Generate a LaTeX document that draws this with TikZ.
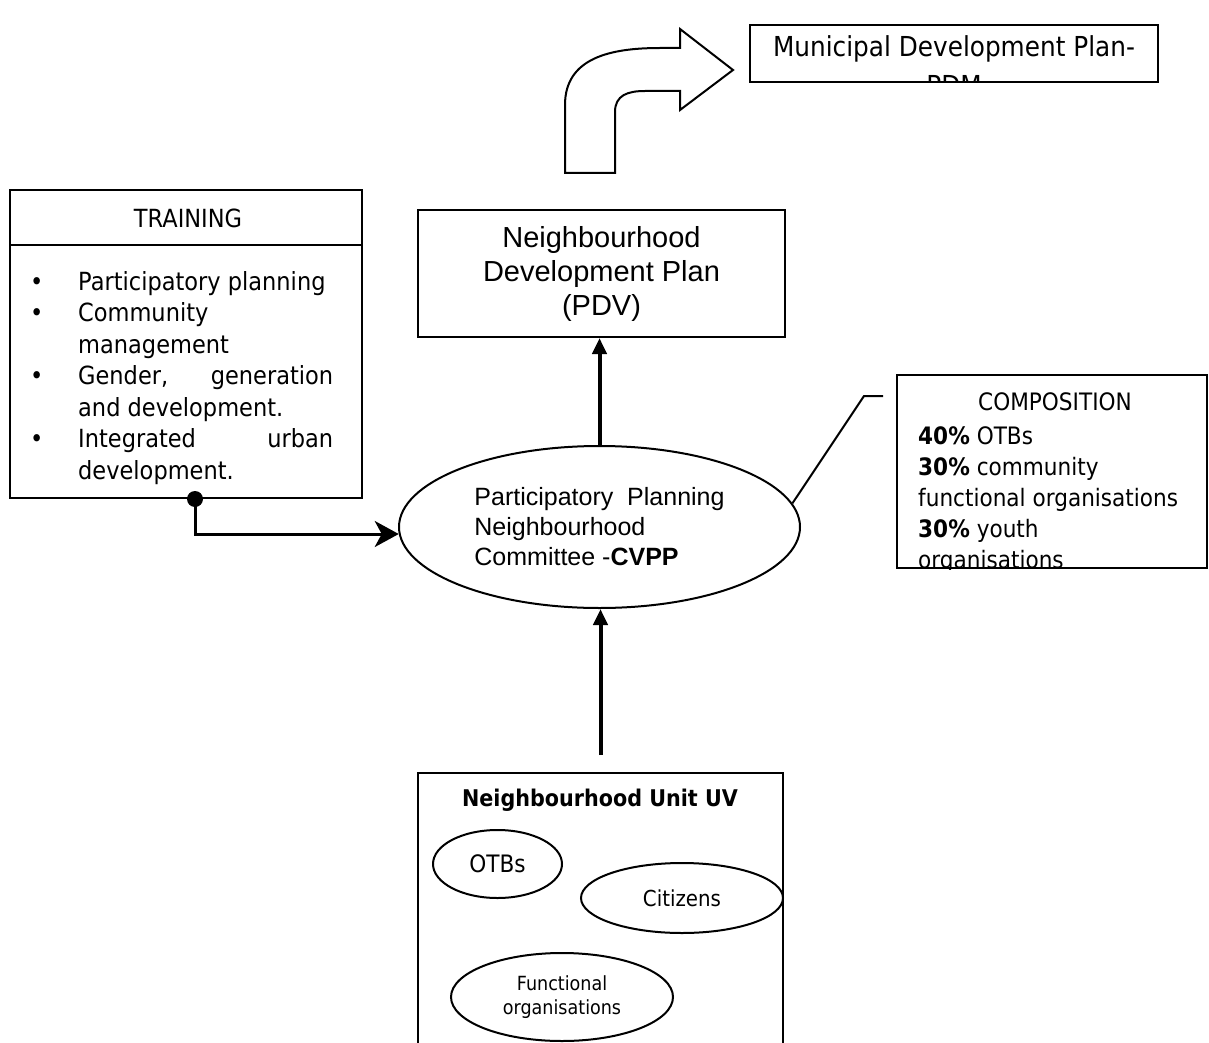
\documentclass[tikz,border=0pt]{standalone}
\usepackage{fontspec}
\setmainfont{DejaVu Sans}[FakeStretch=0.9]
\newfontfamily\arialfont{Liberation Sans}
\usetikzlibrary{arrows.meta,positioning,shapes.geometric}
\tikzset{
  pl diagram/.style={x=1pt, y=-1pt, line join=miter},
  pl box/.style={draw, line width=2pt, inner sep=0pt},
  pl oval/.style={draw, ellipse, line width=2pt, inner sep=0pt},
  pl rise/.style={-{Triangle[length=16pt,width=14pt]}, line width=4pt},
  pl link/.style={-{Stealth[length=24pt,width=26pt,inset=7pt]}, line width=3pt},
  pl leader/.style={line width=2pt},
  pl verdana/.style={font=\fontsize{25}{31.5}\selectfont, inner sep=0pt},
  pl arial/.style={font=\arialfont\fontsize{25}{30}\selectfont},
}

\begin{document}
\begin{tikzpicture}[pl diagram]
\useasboundingbox (0,0) rectangle (1209,1043);
% municipal plan and bent arrow
\node[pl box, minimum width=408, minimum height=57] (munibox) at (954,53.5) {};
\begin{scope}
\clip (munibox.south west) rectangle (munibox.north east);
\node[font=\fontsize{27.5}{39}\selectfont, align=center, anchor=north, inner sep=0pt] (munitext) at ([yshift=-11pt]munibox.north) {Municipal Development Plan-\\PDM};
\end{scope}
\draw[pl leader, fill=white] (565,173) -- (565,105) .. controls (565,58) and (610,48) .. (660,48) -- (680,48) -- (680,29) -- (733,70) -- (680,110) -- (680,91) -- (645,91) .. controls (628,91) and (615,95) .. (615,112) -- (615,173) -- cycle;
% neighbourhood plan
\node[pl box, minimum width=367, minimum height=127, font=\arialfont\fontsize{29}{34}\selectfont, align=center] (pdv) at (601.5,273.5) {Neighbourhood\\Development Plan\\(PDV)};
% committee
\node[pl oval, minimum width=401, minimum height=162, pl arial, align=left] (cvpp) at (599.5,527) {Participatory\ \ Planning\\Neighbourhood\\Committee -\textbf{CVPP}};
\draw[pl rise] (cvpp.north) -- (cvpp.north |- pdv.south);
% training
\node[pl box, minimum width=352, minimum height=308] (trainbox) at (186,344) {};
\coordinate (trainrule) at (0,245);
\draw[pl leader] (trainbox.west |- trainrule) -- (trainbox.east |- trainrule);
\node[pl verdana] (traintitle) at (188,218) {TRAINING};
\node[pl verdana, anchor=north west] (trainlist) at (30,268) {%
  \begin{tabular}{@{}p{48pt}@{}p{255pt}@{}}
  \textbullet & Participatory planning\\
  \textbullet & Community\\
              & management\\
  \textbullet & Gender,\hfill generation\\
              & and development.\\
  \textbullet & Integrated\hfill urban\\
              & development.
  \end{tabular}};
\coordinate (trainknot) at ([xshift=9pt]trainbox.south);
\fill (trainknot) circle (8pt);
\draw[pl link] (trainknot) |- (cvpp.182);
% composition
\node[pl box, minimum width=310, minimum height=193] (compbox) at (1052,471.5) {};
\begin{scope}
\clip (compbox.south west) rectangle (compbox.north east);
\node[pl verdana, font=\fontsize{24}{31}\selectfont] (comptitle) at (1055,402) {COMPOSITION};
\node[pl verdana, font=\fontsize{24}{31}\selectfont, anchor=north west] (complist) at (918,423) {%
  \begin{tabular}{@{}l@{}}
  \textbf{40\%} OTBs\\
  \textbf{30\%} community\\
  functional organisations\\
  \textbf{30\%} youth\\
  organisations
  \end{tabular}};
\end{scope}
\coordinate (compknee) at (864,396);
\coordinate (compend) at (883,396);
\draw[pl leader] (cvpp.7) -- (compknee) -- (compend);
% neighbourhood unit
\node[pl box, minimum width=365, minimum height=310] (unitbox) at (600.5,928) {};
\node[font=\bfseries\fontsize{23}{28}\selectfont] (unittitle) at (600,800) {Neighbourhood Unit UV};
\node[pl oval, minimum width=129, minimum height=68, font=\fontsize{24}{28}\selectfont] (otbs) at (497.5,864) {OTBs};
\node[pl oval, minimum width=202, minimum height=70, font=\fontsize{22}{26}\selectfont] (citizens) at (682,898) {Citizens};
\node[pl oval, minimum width=222, minimum height=88, font=\fontsize{19.5}{24}\selectfont, align=center] (funcorg) at (562,997) {Functional\\organisations};
\coordinate (unittail) at ([yshift=17pt]unitbox.north);
\draw[pl rise] (unittail) -- (unittail |- cvpp.south);
\end{tikzpicture}
\end{document}
